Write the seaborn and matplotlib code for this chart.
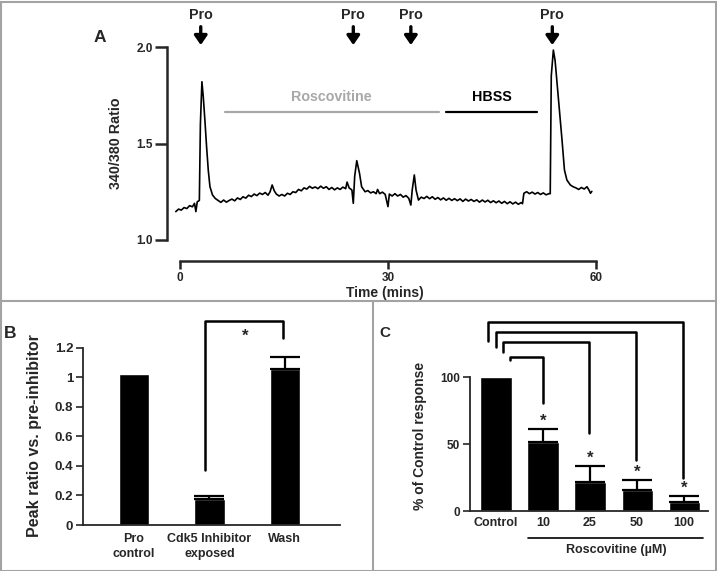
import matplotlib
matplotlib.use("Agg")
import matplotlib.pyplot as plt
import matplotlib.patches as mpatches
import seaborn as sns
import numpy as np

# Panel A: calcium trace (340/380 ratio over time, mins)
trace_t = [-0.6, -0.2, 0.2, 0.6, 1.0, 1.4, 1.8, 2.1, 2.3, 2.5, 2.8, 2.95, 3.17, 3.37, 3.6, 3.85,
           4.09, 4.33, 4.7, 5.1, 5.5, 5.9, 6.3, 6.7, 7.1, 7.5, 7.9, 8.3, 8.7, 9.1, 9.5, 9.9,
           10.3, 10.7, 11.1, 11.5, 11.9, 12.3, 12.7, 13.0, 13.3, 13.6, 13.9, 14.3, 14.7, 15.1,
           15.5, 15.9, 16.3, 16.7, 17.1, 17.5, 17.9, 18.3, 18.7, 19.1, 19.5, 19.9, 20.3, 20.7,
           21.1, 21.5, 21.9, 22.3, 22.7, 23.1, 23.5, 23.9, 24.1, 24.4, 24.8, 25.0, 25.2, 25.5,
           25.9, 26.2, 26.7, 27.1, 27.5, 27.9, 28.3, 28.5, 28.8, 29.2, 29.6, 30.0, 30.2, 30.6,
           31.0, 31.4, 31.8, 32.2, 32.6, 33.0, 33.3, 33.5, 33.8, 34.05, 34.4, 34.8, 35.2, 35.6,
           36.0, 36.4, 36.8, 37.2, 37.6, 38.0, 38.4, 38.8, 39.2, 39.6, 40.0, 40.4, 40.8, 41.2,
           41.6, 42.0, 42.4, 42.8, 43.2, 43.6, 44.0, 44.4, 44.8, 45.2, 45.6, 46.0, 46.4, 46.8,
           47.2, 47.6, 48.0, 48.4, 48.8, 49.2, 49.4, 49.6, 50.0, 50.4, 50.8, 51.2, 51.6, 52.0,
           52.4, 52.8, 53.2, 53.4, 53.55, 53.85, 54.1, 54.6, 55.1, 55.45, 55.8, 56.3, 56.7,
           57.1, 57.5, 57.9, 58.3, 58.7, 59.0, 59.2, 59.4]
trace_v = [1.147, 1.160, 1.155, 1.168, 1.163, 1.178, 1.172, 1.190, 1.147, 1.198, 1.205, 1.600, 1.820, 1.740, 1.620, 1.480,
           1.360, 1.276, 1.233, 1.215, 1.205, 1.195, 1.207, 1.196, 1.205, 1.212, 1.203, 1.218, 1.210, 1.224, 1.217, 1.232,
           1.225, 1.238, 1.230, 1.243, 1.236, 1.246, 1.232, 1.250, 1.285, 1.255, 1.238, 1.228, 1.236, 1.228,
           1.242, 1.236, 1.250, 1.246, 1.262, 1.255, 1.270, 1.264, 1.278, 1.268, 1.275, 1.266, 1.279, 1.268,
           1.276, 1.262, 1.272, 1.260, 1.270, 1.262, 1.274, 1.266, 1.300, 1.270, 1.259, 1.190, 1.330, 1.411,
           1.345, 1.276, 1.250, 1.256, 1.244, 1.250, 1.240, 1.262, 1.240, 1.248, 1.236, 1.173, 1.238, 1.228,
           1.240, 1.228, 1.236, 1.222, 1.230, 1.216, 1.181, 1.260, 1.337, 1.259, 1.207, 1.222, 1.215, 1.226,
           1.214, 1.224, 1.211, 1.220, 1.208, 1.218, 1.206, 1.216, 1.205, 1.214, 1.204, 1.213, 1.200, 1.212,
           1.202, 1.210, 1.200, 1.208, 1.196, 1.207, 1.197, 1.206, 1.194, 1.203, 1.193, 1.202, 1.190, 1.200,
           1.188, 1.198, 1.187, 1.196, 1.185, 1.194, 1.188, 1.242, 1.250, 1.240, 1.248, 1.238, 1.246, 1.236,
           1.244, 1.234, 1.240, 1.240, 1.850, 1.984, 1.930, 1.725, 1.518, 1.363, 1.311, 1.285, 1.276,
           1.270, 1.262, 1.272, 1.264, 1.276, 1.258, 1.242, 1.252]
pro_times = [3.0, 25.0, 33.3, 53.7]
roscovitine_span = [6.5, 37.4]
hbss_span = [38.4, 51.5]

# Panel B
b_labels = ["Pro\ncontrol", "Cdk5 Inhibitor\nexposed", "Wash"]
b_values = [1.02, 0.175, 1.055]
b_errors = [0.0, 0.022, 0.085]

# Panel C
c_labels = ["Control", "10", "25", "50", "100"]
c_values = [100, 51.5, 21.5, 15.7, 6.7]
c_errors = [0, 9.5, 12, 7.5, 4.5]

FONT = "Liberation Sans"
sns.set_style("ticks")
plt.rcParams["font.family"] = [FONT, "DejaVu Sans"]
plt.rcParams["font.weight"] = "bold"
plt.rcParams["axes.labelweight"] = "bold"

W, H = 717, 571
fig = plt.figure(figsize=(W / 100, H / 100), dpi=100)


def rect(x0, y0, x1, y1):
    # pixel box (top-left origin) -> figure fraction rect
    return [x0 / W, 1 - y1 / H, (x1 - x0) / W, (y1 - y0) / H]


# ---------------- A ----------------
axA = fig.add_axes(rect(173, 47, 596, 240))
sns.lineplot(x=trace_t, y=trace_v, ax=axA, color="black", linewidth=1.2, sort=False, estimator=None)
axA.set_xlim(-1, 60)
axA.set_ylim(1.0, 2.0)
axA.spines[["top", "right"]].set_visible(False)
axA.spines["left"].set_position(("outward", 4.3))
axA.spines["bottom"].set_position(("outward", 15))
axA.spines["left"].set_bounds(1.0, 2.0)
axA.spines["bottom"].set_bounds(0, 60)
for s in ("left", "bottom"):
    axA.spines[s].set_linewidth(1.8)
axA.set_xticks([0, 30, 60])
axA.set_yticks([1.0, 1.5, 2.0])
axA.set_yticklabels(["1.0", "1.5", "2.0"])
axA.tick_params(axis="y", length=9, width=1.8, pad=1, labelsize=8.5)
axA.tick_params(axis="x", length=6, width=1.8, pad=2, labelsize=8.5)
axA.set_xlabel("Time (mins)", fontsize=10, fontweight="bold")
axA.xaxis.set_label_coords(0.5, -0.24)
axA.set_ylabel("340/380 Ratio", fontsize=10.3, fontweight="bold")
axA.yaxis.set_label_coords(-0.118, 0.5)

for t in pro_times:
    axA.annotate("", xy=(t, 2.01), xytext=(t, 2.105), annotation_clip=False,
                 arrowprops=dict(arrowstyle="-|>,head_width=0.38,head_length=0.55",
                                 color="black", lw=2.4, shrinkA=0, shrinkB=0))
    axA.text(t, 2.165, "Pro", ha="center", va="center", fontsize=10.3, fontweight="bold", clip_on=False)

axA.plot(roscovitine_span, [1.663, 1.663], color="#a8a8a8", lw=1.6, clip_on=False)
axA.text(21.9, 1.741, "Roscovitine", ha="center", va="center", color="#a8a8a8", fontsize=10.3, fontweight="bold")
axA.plot(hbss_span, [1.663, 1.663], color="black", lw=1.6, clip_on=False)
axA.text(45.0, 1.741, "HBSS", ha="center", va="center", color="black", fontsize=10.3, fontweight="bold")

# ---------------- B ----------------
axB = fig.add_axes(rect(83, 311, 340, 525))
sns.barplot(x=list(range(3)), y=b_values, ax=axB, color="black", saturation=1, width=0.4,
            errorbar=None, native_scale=True)
axB.errorbar(range(1, 3), b_values[1:], yerr=[[0] * 2, b_errors[1:]], fmt="none", ecolor="black",
             elinewidth=1.6, capsize=11, capthick=1.6)
axB.set_xlim(-0.675, 2.73)
axB.set_ylim(0, 1.45)
axB.spines[["top", "right"]].set_visible(False)
axB.spines["left"].set_bounds(0, 1.2)
for s in ("left", "bottom"):
    axB.spines[s].set_linewidth(1.3)
axB.set_yticks([0, 0.2, 0.4, 0.6, 0.8, 1.0, 1.2])
axB.set_yticklabels(["0", "0.2", "0.4", "0.6", "0.8", "1", "1.2"])
axB.set_xticks(range(3))
axB.set_xticklabels(b_labels, linespacing=1.25)
axB.tick_params(axis="y", length=5, width=1.2, pad=2, labelsize=9.5)
axB.tick_params(axis="x", length=0, pad=6, labelsize=9)
axB.set_xlabel("")
axB.set_ylabel("Peak ratio vs. pre-inhibitor", fontsize=11.5, fontweight="bold")
axB.yaxis.set_label_coords(-0.16, 0.42)
# significance bracket
axB.plot([0.94, 0.94, 1.97, 1.97], [0.373, 1.383, 1.383, 1.27], color="black", lw=1.8, clip_on=False)
axB.text(1.47, 1.245, "*", ha="center", va="baseline", fontsize=12, fontweight="bold")

# ---------------- C ----------------
axC = fig.add_axes(rect(470, 313, 708, 511))
sns.barplot(x=list(range(5)), y=c_values, ax=axC, color="black", saturation=1, width=0.66,
            errorbar=None, native_scale=True)
axC.errorbar(range(1, 5), c_values[1:], yerr=[[0] * 4, c_errors[1:]], fmt="none", ecolor="black",
             elinewidth=1.6, capsize=11, capthick=1.6)
axC.set_xlim(-0.553, 4.51)
axC.set_ylim(0, 148)
axC.spines[["top", "right"]].set_visible(False)
axC.spines["left"].set_bounds(0, 100)
for s in ("left", "bottom"):
    axC.spines[s].set_linewidth(1.3)
axC.set_yticks([0, 50, 100])
axC.set_xticks(range(5))
axC.set_xticklabels(c_labels)
axC.tick_params(axis="y", length=5, width=1.2, pad=2, labelsize=8.5)
axC.tick_params(axis="x", length=0, pad=4, labelsize=9)
axC.set_xlabel("")
axC.set_ylabel("% of Control response", fontsize=10, fontweight="bold")
axC.yaxis.set_label_coords(-0.18, 0.38)

brackets = [(0.30, 112.7, 114.9, 1.0, 80.6),
            (0.15, 118.6, 126.0, 1.98, 58.2),
            (0.0, 122.4, 133.6, 2.97, 38.1),
            (-0.17, 126.9, 141.0, 3.98, 24.6)]
for xl, yl, yt, xr, yr in brackets:
    axC.plot([xl, xl, xr, xr], [yl, yt, yt, yr], color="black", lw=1.8, clip_on=False)
for i in range(1, 5):
    axC.text(i, c_values[i] + c_errors[i] + 2.5, "*", ha="center", va="baseline",
             fontsize=12, fontweight="bold")

axC.plot([0.68, 4.4], [-20.1, -20.1], color="black", lw=1.2, clip_on=False)
axC.text(2.57, -29, "Roscovitine (µM)", ha="center", va="center", fontsize=9, fontweight="bold")

# panel letters
fig.text(100 / W, 1 - 37 / H, "A", ha="center", va="center", fontsize=12.5, fontweight="bold")
fig.text(10 / W, 1 - 333 / H, "B", ha="center", va="center", fontsize=12.5, fontweight="bold")
fig.text(385 / W, 1 - 333 / H, "C", ha="center", va="center", fontsize=11, fontweight="bold")

# panel frames
grey = "#a3a3a3"
fig.add_artist(mpatches.Rectangle((0.5 / W, 0.5 / H), (W - 2) / W, (H - 2) / H,
                                  transform=fig.transFigure, fill=False, edgecolor=grey, lw=1.5))
fig.add_artist(plt.Line2D([0, 1], [1 - 301 / H, 1 - 301 / H], transform=fig.transFigure, color=grey, lw=1.5))
fig.add_artist(plt.Line2D([373 / W, 373 / W], [0, 1 - 301 / H], transform=fig.transFigure, color=grey, lw=1.5))

fig.savefig("out.png", dpi=100)
